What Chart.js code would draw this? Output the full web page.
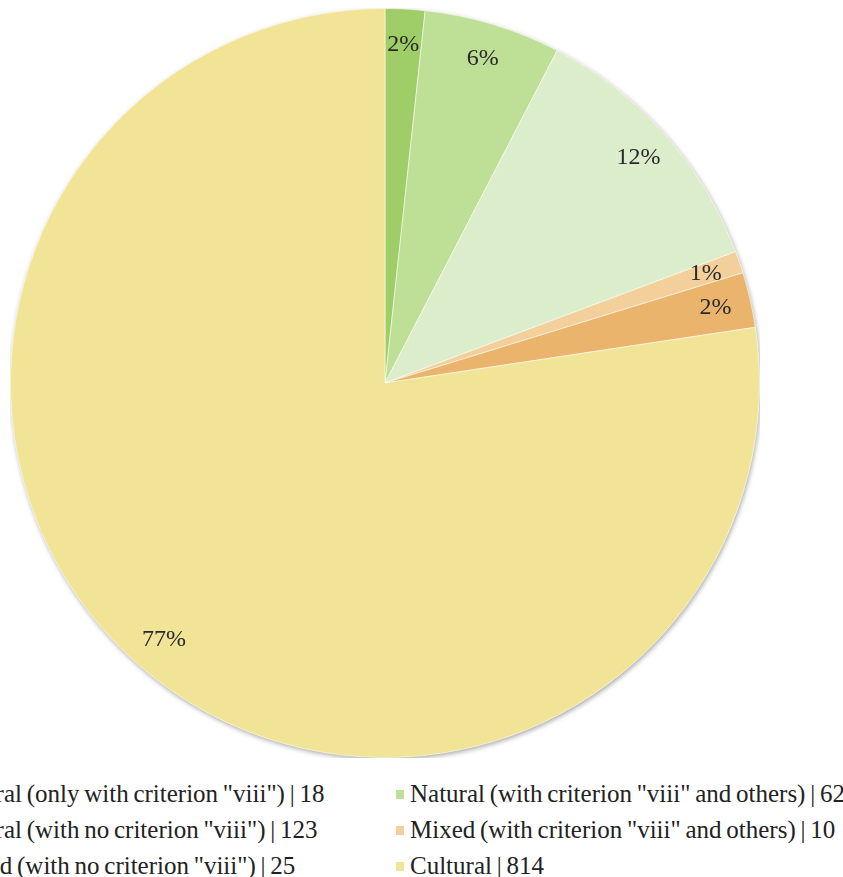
<!DOCTYPE html>
<html>
<head>
<meta charset="utf-8">
<script src="https://cdn.jsdelivr.net/npm/chart.js@4/dist/chart.umd.min.js"></script>
<style>
  html, body { margin: 0; padding: 0; background: #fff; overflow: hidden; }
  body { width: 843px; height: 877px; position: relative; }
  #pieBox { position: absolute; left: 10px; top: 8px; width: 750px; height: 750px; }
  #legend {
    position: absolute; left: -67px; top: 776px;
    display: grid; grid-template-columns: 463px 463px; grid-auto-rows: 36px;
    font-family: "Liberation Serif", "Times New Roman", serif; font-size: 25px; color: #222;
    word-spacing: -1.5px;
  }
  #legend .item { display: flex; align-items: center; white-space: nowrap; }
  #legend .box { width: 8px; height: 9px; margin-right: 6px; flex: none; }
</style>
</head>
<body>
<div id="pieBox"><canvas id="whsChart"></canvas></div>
<div id="legend"></div>
<script>
const categories = [
  'Natural (only with criterion "viii")',
  'Natural (with criterion "viii" and others)',
  'Natural (with no criterion "viii")',
  'Mixed (with criterion "viii" and others)',
  'Mixed (with no criterion "viii")',
  'Cultural'
];
const siteCounts = [18, 62, 123, 10, 25, 814];
const sliceColors = ['#9fcd67', '#bde096', '#dcedcb', '#f3d09b', '#ebb46d', '#f1e496'];

const total = siteCounts.reduce((a, b) => a + b, 0);

// shadow under the pie + percentage labels near the rim
const sliceLabels = {
  id: 'sliceLabels',
  beforeDatasetsDraw(chart) {
    const arc = chart.getDatasetMeta(0).data[0];
    if (!arc) return;
    const { x, y, outerRadius } = arc.getProps(['x', 'y', 'outerRadius'], true);
    const ctx = chart.ctx;
    ctx.save();
    ctx.shadowColor = 'rgba(0,0,0,0.35)';
    ctx.shadowBlur = 5;
    ctx.shadowOffsetX = 1;
    ctx.shadowOffsetY = 2;
    ctx.fillStyle = '#f1e496';
    ctx.beginPath();
    ctx.arc(x, y, outerRadius, 0, Math.PI * 2);
    ctx.fill();
    ctx.restore();
  },
  afterDatasetsDraw(chart) {
    const ctx = chart.ctx;
    const meta = chart.getDatasetMeta(0);
    ctx.save();
    ctx.font = '24px "Liberation Serif", "Times New Roman", serif';
    ctx.fillStyle = '#2a2a2a';
    ctx.textAlign = 'center';
    ctx.textBaseline = 'middle';
    meta.data.forEach((el, i) => {
      const p = el.getProps(['x', 'y', 'startAngle', 'endAngle', 'outerRadius'], true);
      const mid = (p.startAngle + p.endAngle) / 2;
      const r = p.outerRadius * 0.905;
      const pct = Math.round(siteCounts[i] / total * 100) + '%';
      ctx.fillText(pct, p.x + Math.cos(mid) * r, p.y + Math.sin(mid) * r);
    });
    ctx.restore();
  }
};

const ctx = document.getElementById('whsChart').getContext('2d');
const whsChart = new Chart(ctx, {
  type: 'pie',
  data: {
    labels: categories,
    datasets: [{
      data: siteCounts,
      backgroundColor: sliceColors,
      borderColor: 'rgba(255,255,255,0.55)',
      borderWidth: 1
    }]
  },
  options: {
    responsive: true,
    maintainAspectRatio: false,
    animation: false,
    layout: { padding: 0 },
    plugins: {
      legend: { display: false },
      tooltip: { enabled: false }
    }
  },
  plugins: [sliceLabels]
});

// legend, two columns filled row by row
const legendEl = document.getElementById('legend');
categories.forEach((name, i) => {
  const item = document.createElement('div');
  item.className = 'item';
  const box = document.createElement('span');
  box.className = 'box';
  box.style.background = sliceColors[i];
  const txt = document.createElement('span');
  txt.textContent = name + ' | ' + siteCounts[i];
  item.appendChild(box);
  item.appendChild(txt);
  legendEl.appendChild(item);
});
</script>
</body>
</html>
